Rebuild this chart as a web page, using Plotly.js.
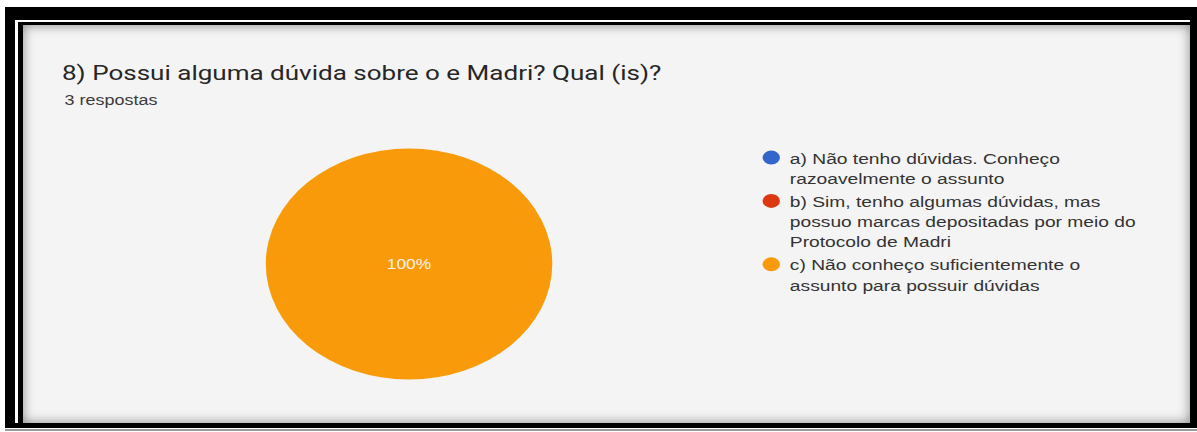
<!DOCTYPE html>
<html>
<head>
<meta charset="utf-8">
<script src="https://cdn.plot.ly/plotly-3.0.1.min.js"></script>
<style>
  html, body { margin: 0; padding: 0; background: #ffffff; width: 1197px; height: 432px; overflow: hidden; }
  #outer { position: absolute; left: 5px; top: 7px; width: 1192px; height: 421px; background: #000; }
  #line { position: absolute; left: 15px; top: 20px; width: 1175px; height: 403px; border-left: 3px solid #fff; border-top: 2px solid #fff; box-sizing: border-box; }
  #panel { position: absolute; left: 23px; top: 25px; width: 1167px; height: 398px; background: #f4f4f4; box-shadow: inset 0 0 12px rgba(0,0,0,0.45); }
  #bottomline { position: absolute; left: 5px; top: 429px; width: 1192px; height: 2px; background: #9a9a9a; }
  #chart { position: absolute; left: 0; top: 0; width: 965px; height: 432px; transform: scale(1.24, 1); transform-origin: 0 0; }
</style>
</head>
<body>
<div id="outer"></div>
<div id="line"></div>
<div id="panel"></div>
<div id="bottomline"></div>
<div id="chart"></div>
<script>
// ---- data ----
var titleText = "8) Possui alguma dúvida sobre o e Madri? Qual (is)?";
var subtitleText = "3 respostas";
var categories = [
  "a) Não tenho dúvidas. Conheço<br>razoavelmente o assunto",
  "b) Sim, tenho algumas dúvidas, mas<br>possuo marcas depositadas por meio do<br>Protocolo de Madri",
  "c) Não conheço suficientemente o<br>assunto para possuir dúvidas"
];
var values = [0, 0, 3];
var colors = ["#3366cc", "#dc3912", "#f89a0a"];

// ---- chart ----
var W = 965, H = 432;
var traces = [{
  type: "pie",
  labels: categories,
  values: values,
  sort: false,
  direction: "clockwise",
  marker: { colors: colors, line: { width: 0 } },
  texttemplate: values.map(function (v) { return v > 0 ? "%{percent:.0%}" : ""; }),
  textposition: "inside",
  textfont: { family: "Liberation Sans, Arial, sans-serif", size: 14, color: "#fbf3e6" },
  showlegend: false,
  hoverinfo: "none",
  domain: { x: [0.2221, 0.4615], y: [0.1215, 0.6563] }
}];
categories.forEach(function (c, i) {
  traces.push({
    type: "scatter", mode: "markers", x: [null], y: [null], name: c,
    marker: { size: 14, color: colors[i] }, hoverinfo: "none", showlegend: true
  });
});

var layout = {
  width: W, height: H,
  margin: { l: 0, r: 0, t: 0, b: 0 },
  paper_bgcolor: "rgba(0,0,0,0)",
  plot_bgcolor: "rgba(0,0,0,0)",
  xaxis: { visible: false, domain: [0.9, 0.91] },
  yaxis: { visible: false, domain: [0.9, 0.91] },
  title: {
    text: titleText,
    x: 50 / W, xref: "paper", xanchor: "left",
    y: 1 - 73 / H, yref: "paper", yanchor: "middle",
    font: { family: "Roboto, sans-serif", size: 21, color: "#262626" }
  },
  annotations: [{
    text: subtitleText, xref: "paper", yref: "paper",
    x: 50 / W, y: 1 - 100 / H, xanchor: "left", yanchor: "middle",
    showarrow: false,
    font: { family: "Liberation Sans, Arial, sans-serif", size: 14.5, color: "#3c3c3c" }
  }],
  showlegend: true,
  legend: {
    x: 597 / W, xanchor: "left",
    y: 1 - 141 / H, yanchor: "top",
    valign: "top",
    bgcolor: "rgba(0,0,0,0)",
    font: { family: "Liberation Sans, Arial, sans-serif", size: 15.5, color: "#333333" },
    itemclick: false, itemdoubleclick: false
  }
};

Plotly.newPlot("chart", traces, layout, { displayModeBar: false, staticPlot: true }).then(function (gd) {
  var pts = gd.querySelectorAll("g.legendpoints");
  pts.forEach(function (p) {
    var t = p.getAttribute("transform") || "";
    p.setAttribute("transform", t + " translate(5,0)");
  });
});
</script>
</body>
</html>
